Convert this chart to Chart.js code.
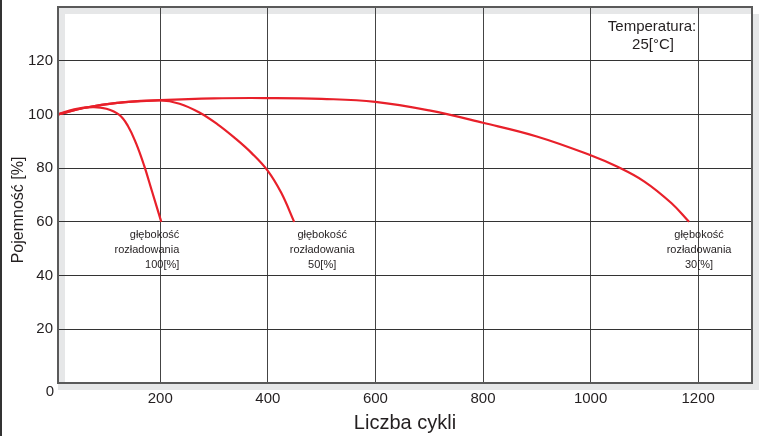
<!DOCTYPE html>
<html>
<head>
<meta charset="utf-8">
<script src="https://cdn.jsdelivr.net/npm/chart.js@4/dist/chart.umd.min.js"></script>
<style>
  body { margin: 0; background: #fff; }
  #wrap { width: 765px; height: 436px; }
</style>
</head>
<body>
<div id="wrap"><canvas id="myChart" width="765" height="436"></canvas></div>
<script>
// cykle / pojemnosc
var dod100X = [10, 40, 75, 100, 124, 140, 155, 170, 185, 202];
var dod100Y = [100, 101.9, 102.7, 102.1, 99.8, 95.7, 89.3, 81, 71.2, 60];
var dod50X = [10, 60, 120, 200, 236, 272, 306, 340, 370, 400, 425, 449];
var dod50Y = [100, 102.5, 104.3, 105.2, 104, 100.8, 96.4, 91, 85.6, 79, 70.8, 60];
var dod30X = [10, 60, 120, 200, 300, 400, 500, 600, 700, 800, 900, 1000, 1050, 1100, 1150, 1183];
var dod30Y = [100, 102.5, 104.3, 105.3, 106, 106.1, 105.8, 104.7, 101.5, 96.9, 91.8, 84.8, 80.5, 75, 67, 60];

var xTicks = [200, 400, 600, 800, 1000, 1200];
var yTicks = [0, 20, 40, 60, 80, 100, 120];

var dodLabels = [
  ['głębokość', 'rozładowania', '100[%]'],
  ['głębokość', 'rozładowania', '50[%]'],
  ['głębokość', 'rozładowania', '30[%]']
];
var tempLabel = ['Temperatura:', '25[°C]'];

function pts(xs, ys) {
  var out = [];
  for (var i = 0; i < xs.length; i++) {
    out.push({x: xs[i], y: ys[i]});
  }
  return out;
}

var red = '#e8202a';
function line(xs, ys) {
  return {
    data: pts(xs, ys),
    borderColor: red,
    borderWidth: 2.2,
    pointRadius: 0,
    tension: 0.4,
    fill: false
  };
}

// where the depth labels sit, relative to the end of each curve
var labelPlace = [
  {dx: 18, align: 'right'},
  {dx: 28, align: 'center'},
  {dx: 10, align: 'center'}
];

var extras = {
  id: 'extras',
  beforeDraw: function(chart) {
    var ctx = chart.ctx, a = chart.chartArea;
    ctx.save();
    ctx.fillStyle = '#fff';
    ctx.fillRect(0, 0, chart.width, chart.height);
    ctx.fillStyle = '#e6e7e8';
    ctx.fillRect(a.left, a.top, 7, a.bottom - a.top);
    ctx.fillRect(a.left, a.top, a.right - a.left, 7);
    ctx.fillRect(a.left, a.bottom, a.right - a.left + 7, 7);
    ctx.fillRect(a.right, a.top + 7, 7, a.bottom - a.top);
    ctx.restore();
  },
  afterDraw: function(chart) {
    var ctx = chart.ctx, a = chart.chartArea;
    var xs = chart.scales.x, ys = chart.scales.y;
    ctx.save();
    // plot frame
    ctx.strokeStyle = '#5a5a5a';
    ctx.lineWidth = 2;
    ctx.strokeRect(a.left, a.top, a.right - a.left, a.bottom - a.top);
    // outer left rule
    ctx.strokeStyle = '#333';
    ctx.beginPath();
    ctx.moveTo(1, 0);
    ctx.lineTo(1, chart.height);
    ctx.stroke();

    ctx.fillStyle = '#231f20';
    // zero label sits lower than the axis
    ctx.font = '15px "Liberation Sans", Arial, sans-serif';
    ctx.textAlign = 'right';
    ctx.textBaseline = 'middle';
    ctx.fillText('0', 54, ys.getPixelForValue(0) + 9);

    // y title
    ctx.save();
    ctx.translate(19, 210);
    ctx.rotate(-Math.PI / 2);
    ctx.textAlign = 'center';
    ctx.font = '16px "Liberation Sans", Arial, sans-serif';
    ctx.fillText('Pojemność [%]', 0, 0);
    ctx.restore();

    // depth labels under the end of each curve
    ctx.font = '11px "Liberation Sans", Arial, sans-serif';
    var ends = [[dod100X, dod100Y], [dod50X, dod50Y], [dod30X, dod30Y]];
    for (var i = 0; i < ends.length; i++) {
      var ex = ends[i][0][ends[i][0].length - 1];
      var ey = ends[i][1][ends[i][1].length - 1];
      var px = xs.getPixelForValue(ex) + labelPlace[i].dx;
      var py = ys.getPixelForValue(ey);
      ctx.textAlign = labelPlace[i].align;
      for (var k = 0; k < dodLabels[i].length; k++) {
        ctx.fillText(dodLabels[i][k], px, py + 13 + k * 15);
      }
    }

    // temperature note
    ctx.font = '15px "Liberation Sans", Arial, sans-serif';
    ctx.textAlign = 'center';
    ctx.fillText(tempLabel[0], 652, 27);
    ctx.fillText(tempLabel[1], 653, 45);
    ctx.restore();
  }
};

var ctx = document.getElementById('myChart').getContext('2d');
var myChart = new Chart(ctx, {
  type: 'line',
  data: {
    datasets: [line(dod100X, dod100Y), line(dod50X, dod50Y), line(dod30X, dod30Y)]
  },
  plugins: [extras],
  options: {
    responsive: false,
    animation: false,
    layout: { padding: { left: 0, top: 0, right: 13, bottom: 0 } },
    plugins: { legend: { display: false }, tooltip: { enabled: false } },
    scales: {
      x: {
        type: 'linear',
        min: 10,
        max: 1300,
        afterBuildTicks: function(scale) {
          scale.ticks = xTicks.map(function(v) { return {value: v}; });
        },
        afterFit: function(scale) { scale.height = 53; },
        grid: { color: '#444', lineWidth: 1, drawTicks: false },
        border: { display: false },
        ticks: {
          padding: 7,
          color: '#231f20',
          font: { family: '"Liberation Sans", Arial, sans-serif', size: 15 },
          callback: function(v) { return String(v); }
        },
        title: {
          display: true,
          text: 'Liczba cykli',
          color: '#231f20',
          padding: { top: 0, bottom: 1 },
          font: { family: '"Liberation Sans", Arial, sans-serif', size: 20 }
        }
      },
      y: {
        min: 0,
        max: 140,
        afterBuildTicks: function(scale) {
          scale.ticks = yTicks.map(function(v) { return {value: v}; });
        },
        afterFit: function(scale) {
          scale.width = 58;
          scale.paddingTop = 7;
          scale.paddingBottom = 0;
        },
        grid: { color: '#333', lineWidth: 1, drawTicks: false },
        border: { display: false },
        ticks: {
          padding: 5,
          color: '#231f20',
          font: { family: '"Liberation Sans", Arial, sans-serif', size: 15 },
          callback: function(v) { return v === 0 ? '' : String(v); }
        }
      }
    }
  }
});
</script>
</body>
</html>
